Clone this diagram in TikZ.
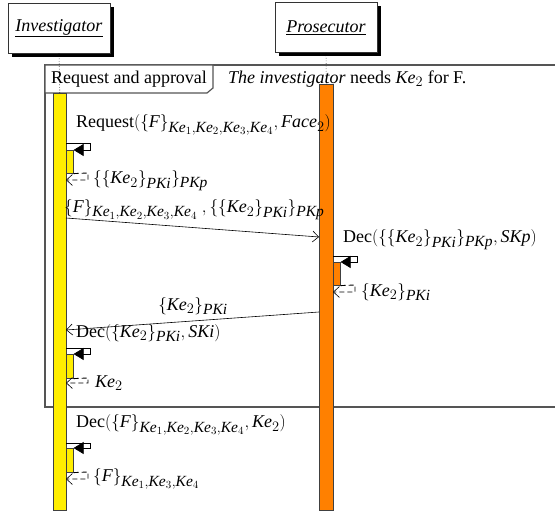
\documentclass[tikz,border=0pt]{standalone}
\usepackage{fontspec}
\setmainfont{Liberation Serif}
\usetikzlibrary{arrows.meta,shadows}
\DeclareMathSizes{18}{18}{15.5}{11}
\definecolor{barY}{HTML}{FFEE00}
\definecolor{barO}{HTML}{FF8000}
\definecolor{frameC}{HTML}{555555}
\newcommand{\mi}[1]{\mathit{#1}}
\begin{document}
\begin{tikzpicture}[x=1pt,y=-1pt,
  font=\fontsize{18}{21}\selectfont,
  actor/.style={draw=black!80, fill=white, line width=0.6pt, minimum width=102pt, minimum height=50pt, inner sep=0pt,
    drop shadow={shadow xshift=4pt, shadow yshift=-4pt, opacity=1, fill=black}},
  ybar/.style={draw=black!75, fill=barY, line width=0.6pt, minimum width=13pt, inner sep=0pt, anchor=north west},
  obar/.style={draw=black!75, fill=barO, line width=0.6pt, minimum width=14pt, inner sep=0pt, anchor=north west},
  sbar/.style={draw=black!75, line width=0.6pt, minimum width=7pt, inner sep=0pt, anchor=north west},
  lbl/.style={anchor=west, inner sep=0pt},
  frameline/.style={draw=frameC, line width=1.2pt},
  msg/.style={draw=black, line width=0.6pt, -{Straight Barb[length=6pt,width=11pt]}},
  selfm/.style={draw=black, line width=0.6pt, fill=white, -{Triangle[length=10pt,width=12pt]}},
  retm/.style={draw=black, line width=0.9pt, dash pattern=on 5pt off 3pt, -{Straight Barb[length=6pt,width=11pt,line width=0.6pt]}},
]
\path[use as bounding box, fill=white] (0,0) rectangle (555,511);

% actors
\node[actor] (inv) at (59,28) {\underline{\textit{Investigator}}};
\node[actor] (pro) at (326,27.5) {\underline{\textit{Prosecutor}}};

% frame
\draw[frameline] (45,65) rectangle (570,407);
\draw[frameline, fill=white] (45,65) -- (213,65) -- (213,88) -- (207,93) -- (45,93) -- cycle;
\node[inner sep=0pt] (ftitle) at (129,79) {Request and approval};
\node[lbl] (fnote) at (228,79) {\textit{The investigator} needs $\mi{Ke}_2$ for F.};

% activation bars
\node[ybar, minimum height=417pt] (yb) at (53,93) {};
\node[obar, minimum height=426pt] (ob) at (319,84) {};
\draw[dotted, line width=0.6pt] (inv.south) -- (yb.north);
\draw[dotted, line width=0.6pt] (pro.south) -- (ob.north);

% self call 1
\node[lbl] (t1) at (76,125) {Request$\bigl(\{\mi{F}\}_{\mi{Ke}_1,\mi{Ke}_2,\mi{Ke}_3,\mi{Ke}_4},\mi{Face}_2\bigr)$};
\node[sbar, fill=barY, minimum height=23pt] (s1) at (66,150) {};
\coordinate (s1a) at (66,143); \coordinate (s1b) at (90,143); \coordinate (s1c) at (90,150);
\draw[selfm] (s1a) -- (s1b) -- (s1c) -- (s1.north east);
\coordinate (r1a) at (88,173); \coordinate (r1b) at (88,180); \coordinate (r1c) at (66,180);
\draw[retm] (s1.south east) -- (r1a) -- (r1b) -- (r1c);
\node[lbl] (t2) at (93,181) {$\{\{\mi{Ke}_2\}_{\mi{PKi}}\}_{\mi{PKp}}$};

% message 2
\node[lbl] (t3) at (64,210) {$\{\mi{F}\}_{\mi{Ke}_1,\mi{Ke}_2,\mi{Ke}_3,\mi{Ke}_4}\ ,\{\{\mi{Ke}_2\}_{\mi{PKi}}\}_{\mi{PKp}}$};
\coordinate (m2a) at (66,218); \coordinate (m2b) at (319,237);
\draw[msg] (m2a) -- (m2b);

% self call 2 (prosecutor)
\node[lbl] (t4) at (343,240) {Dec$(\{\{\mi{Ke}_2\}_{\mi{PKi}}\}_{\mi{PKp}},\mi{SKp})$};
\node[sbar, fill=barO, minimum height=23pt] (s2) at (333,262) {};
\coordinate (s2a) at (333,256); \coordinate (s2b) at (357,256); \coordinate (s2c) at (357,262);
\draw[selfm] (s2a) -- (s2b) -- (s2c) -- (s2.north east);
\coordinate (r2a) at (355,285); \coordinate (r2b) at (355,292); \coordinate (r2c) at (333,292);
\draw[retm] (s2.south east) -- (r2a) -- (r2b) -- (r2c);
\node[lbl] (t5) at (361,292) {$\{\mi{Ke}_2\}_{\mi{PKi}}$};

% message 4
\node[inner sep=0pt] (t6) at (193,306) {$\{\mi{Ke}_2\}_{\mi{PKi}}$};
\coordinate (m4a) at (319,312); \coordinate (m4b) at (66,330);
\draw[msg] (m4a) -- (m4b);

% self call 3
\node[lbl] (t7) at (76,333) {Dec$(\{\mi{Ke}_2\}_{\mi{PKi}},\mi{SKi})$};
\node[sbar, fill=barY, minimum height=24pt] (s3) at (66,354) {};
\coordinate (s3a) at (66,348); \coordinate (s3b) at (90,348); \coordinate (s3c) at (90,354);
\draw[selfm] (s3a) -- (s3b) -- (s3c) -- (s3.north east);
\coordinate (r3a) at (88,378); \coordinate (r3b) at (88,383); \coordinate (r3c) at (66,383);
\draw[retm] (s3.south east) -- (r3a) -- (r3b) -- (r3c);
\node[lbl] (t8) at (95,383) {$\mi{Ke}_2$};

% self call 4
\node[lbl] (t9) at (76,425) {Dec$\bigl(\{\mi{F}\}_{\mi{Ke}_1,\mi{Ke}_2,\mi{Ke}_3,\mi{Ke}_4},\mi{Ke}_2\bigr)$};
\node[sbar, fill=barY, minimum height=24pt] (s4) at (66,448) {};
\coordinate (s4a) at (66,443); \coordinate (s4b) at (90,443); \coordinate (s4c) at (90,448);
\draw[selfm] (s4a) -- (s4b) -- (s4c) -- (s4.north east);
\coordinate (r4a) at (88,472); \coordinate (r4b) at (88,479); \coordinate (r4c) at (66,479);
\draw[retm] (s4.south east) -- (r4a) -- (r4b) -- (r4c);
\node[lbl] (t10) at (93,479) {$\{\mi{F}\}_{\mi{Ke}_1,\mi{Ke}_3,\mi{Ke}_4}$};
\end{tikzpicture}
\end{document}
